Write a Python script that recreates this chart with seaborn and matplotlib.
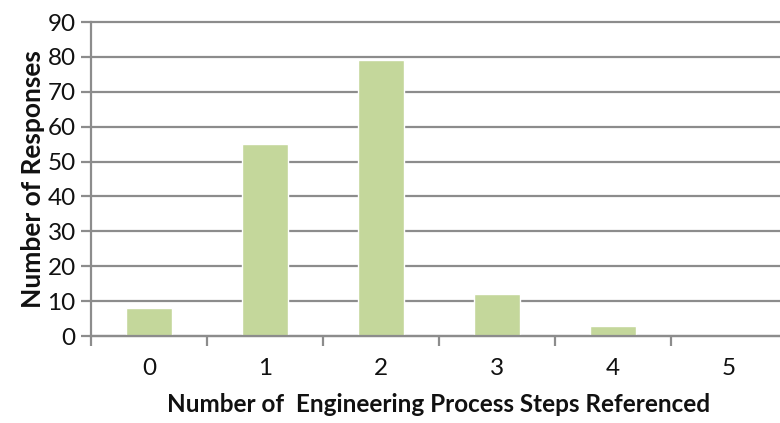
import matplotlib
matplotlib.use("Agg")
import matplotlib.pyplot as plt
import seaborn as sns
import pandas as pd

steps = ["0", "1", "2", "3", "4", "5"]
responses = [8, 55, 79, 12, 3, 0]
y_ticks = [0, 10, 20, 30, 40, 50, 60, 70, 80, 90]

sns.set_theme(style="white")
plt.rcParams["font.family"] = ["Lato", "DejaVu Sans"]

df = pd.DataFrame({"steps": steps, "responses": responses})

fig = plt.figure(figsize=(7.8, 4.23), dpi=100)
ax = fig.add_axes([91 / 780, 1 - 336 / 423, 696 / 780, 314 / 423])

grid_color = "#8c8c8c"
ax.set_ylim(0, 90)
ax.set_yticks(y_ticks)
for v in y_ticks:
    ax.axhline(v, color=grid_color, lw=1.6, zorder=0, clip_on=False)

sns.barplot(data=df, x="steps", y="responses", color="#c4d79b",
            saturation=1, width=0.4, ax=ax, zorder=2)

ax.set_xlim(-0.5, len(steps) - 0.5)
for s in ["top", "right"]:
    ax.spines[s].set_visible(False)
ax.spines["left"].set_color(grid_color)
ax.spines["left"].set_linewidth(1.6)
ax.spines["bottom"].set_color(grid_color)
ax.spines["bottom"].set_linewidth(1.6)

ax.tick_params(axis="y", length=7, width=1.6, color=grid_color,
               labelsize=17.5, pad=4, left=True, labelcolor="#111111")
ax.tick_params(axis="x", length=0, labelsize=17.5, pad=16,
               labelcolor="#111111")
# category boundary ticks on the x axis
ax.set_xticks([i - 0.5 for i in range(len(steps) + 1)], minor=True)
ax.tick_params(axis="x", which="minor", length=7, width=1.6,
               color=grid_color, bottom=True)

ax.set_xlabel("Number of  Engineering Process Steps Referenced",
              fontsize=17.5, fontweight="bold", labelpad=10, color="#111111")
ax.set_ylabel("Number of Responses", fontsize=19, fontweight="bold",
              labelpad=2, color="#111111")

fig.savefig("out.png", dpi=100)
